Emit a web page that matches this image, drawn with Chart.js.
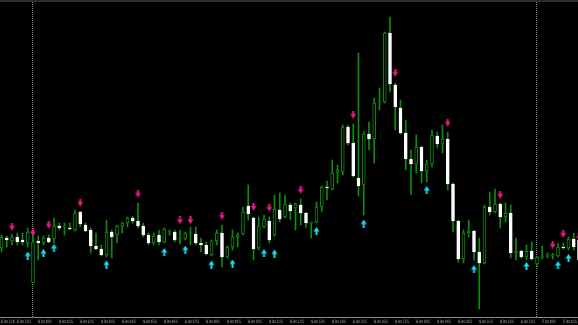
<!DOCTYPE html>
<html><head><meta charset="utf-8">
<script src="https://cdn.jsdelivr.net/npm/chart.js@4/dist/chart.umd.min.js"></script>
<style>
html,body{margin:0;padding:0;background:#000;}
#wrap{width:578px;height:325px;background:#000;overflow:hidden;}
#topbar{height:2px;background:#2c2c2c;}
#c{display:block;}
</style></head><body>
<div id="wrap"><div id="topbar"></div><canvas id="c" width="578" height="323"></canvas></div>
<script>
// M15 bars, values in chart units
const opens  = [72,82,79,83,80,77,37,79,77,82,81,94,93,92,90,108,95,90,74,71,65,88,85,94,97,102,99,94,85,77,85,78,88,88,81,81,87,86,77,75,65,79,87,63,73,83,86,114,102,72,93,99,85,110,103,115,112,115,107,97,98,113,133,131,147,148,193,177,142,135,186,181,218,218,287,235,212,187,161,156,173,149,156,184,176,181,136,99,61,87,89,68,57,113,108,116,103,107,67,69,63,69,56,63,64,64,64,73,72,81,80];
const highs  = [85,84,86,87,87,92,85,84,84,85,102,97,97,97,110,109,97,92,87,75,100,90,95,98,103,104,117,97,87,87,90,92,90,90,90,88,93,93,82,78,80,90,95,74,90,87,113,135,103,103,105,103,125,127,125,117,117,121,108,98,118,134,139,160,155,195,195,196,267,188,198,222,232,288,303,237,220,200,170,185,174,160,190,188,195,188,137,100,90,100,90,82,115,128,131,117,117,115,82,70,75,78,64,74,67,67,77,77,83,87,85];
const lows   = [68,73,75,75,75,73,37,60,75,77,77,90,85,90,89,93,88,67,70,64,63,62,77,87,93,97,92,83,75,75,75,77,85,78,76,80,75,75,68,65,64,75,53,62,70,73,85,100,60,70,92,77,84,98,102,100,90,95,92,82,97,108,120,130,137,145,175,143,124,105,170,157,210,217,228,190,186,150,125,147,137,138,153,172,167,130,88,58,57,83,60,11,56,105,107,92,98,62,60,62,60,60,53,61,62,61,63,71,70,70,58];
const closes = [83,80,83,78,78,88,78,77,82,78,94,92,93,91,107,96,89,74,71,65,88,83,94,97,102,99,94,85,77,84,78,91,88,80,81,87,87,77,75,66,79,87,63,73,83,85,108,106,71,94,101,80,111,101,116,109,116,107,97,97,113,133,132,147,150,193,177,144,134,186,181,217,218,287,236,213,187,161,156,173,149,156,185,176,181,136,99,61,87,89,68,57,113,108,116,103,107,67,69,63,69,61,63,63,64,64,73,72,81,73,60];

// signal arrows (bar index, value)
const downArrowBars = [2,6,9,15,26,34,36,42,48,51,57,67,75,85,95,105,107,110];
const downArrowVals = [93.5,88,95.5,117.5,126.5,100,100,104.5,113.5,112.5,130.5,205.5,247.5,197.5,125.5,75.5,86.5,83.5];
const upArrowBars   = [5,8,10,20,31,35,40,44,50,52,60,69,81,90,100,106,108];
const upArrowVals   = [64.5,67,72,55.5,68,70.5,55.5,56.5,67,66.5,89,96.5,130,51,54,55,62];

// day separators (bar index)
const separatorBars = [6,102];

// time axis labels
const tickBars = [0,3,7,11,15,19,23,27,31,35,39,43,47,51,55,59,63,67,71,75,79,83,87,91,95,99,103,107];
const tickLabels = ["15 Dec 22:30","15 Dec 23:15","16 Dec 00:15","16 Dec 01:15","16 Dec 02:15","16 Dec 03:15","16 Dec 04:15","16 Dec 05:15","16 Dec 06:15","16 Dec 07:15","16 Dec 08:15","16 Dec 09:15","16 Dec 10:15","16 Dec 11:15","16 Dec 12:15","16 Dec 13:15","16 Dec 14:15","16 Dec 15:15","16 Dec 16:15","16 Dec 17:15","16 Dec 18:15","16 Dec 19:15","16 Dec 20:15","16 Dec 21:15","16 Dec 22:15","16 Dec 23:15","17 Dec 00:15","17 Dec 01:15"];

const GREEN = '#0e8c0e';
const PINK = '#ee1a8c';
const CYAN = '#16dcf0';

function makeArrow(color, down){
  const c = document.createElement('canvas');
  c.width = 7; c.height = 8;
  const g = c.getContext('2d');
  g.fillStyle = color;
  g.save();
  if(!down){ g.translate(0,8); g.scale(1,-1); }
  g.fillRect(2.5,0,2,4);
  g.beginPath(); g.moveTo(0.5,3.5); g.lineTo(6.5,3.5); g.lineTo(3.5,8); g.closePath(); g.fill();
  g.restore();
  return c;
}
const downImg = makeArrow(PINK, true);
const upImg = makeArrow(CYAN, false);

const idx = opens.map((_, i) => i);
const isBull = i => closes[i] >= opens[i];

const separatorPlugin = {
  id: 'separators',
  beforeDatasetsDraw(chart){
    const {ctx, chartArea, scales} = chart;
    ctx.save();
    ctx.strokeStyle = '#8a8a8a';
    ctx.lineWidth = 1;
    ctx.setLineDash([1,1]);
    separatorBars.forEach(b => {
      const px = Math.floor(scales.x.getPixelForValue(b)) + 0.5;
      ctx.beginPath(); ctx.moveTo(px, chartArea.top); ctx.lineTo(px, chartArea.bottom); ctx.stroke();
    });
    ctx.restore();
  }
};

// tiny, horizontally condensed time labels placed at the x-scale's ticks
const timeLabelPlugin = {
  id: 'timeLabels',
  afterDraw(chart){
    const {ctx, chartArea, scales} = chart;
    const xs = scales.x;
    ctx.save();
    ctx.fillStyle = '#c4c4c4';
    ctx.font = "5px 'DejaVu Sans', sans-serif";
    ctx.textBaseline = 'top';
    ctx.textAlign = 'left';
    xs.ticks.forEach(t => {
      const k = tickBars.indexOf(t.value);
      if (k < 0) return;
      const px = xs.getPixelForValue(t.value);
      ctx.save();
      ctx.translate(Math.round(px) - 0.5, chartArea.bottom + 2.5);
      ctx.scale(0.43, 0.9);
      ctx.fillText(tickLabels[k], 0, 0);
      ctx.restore();
    });
    ctx.restore();
  }
};

new Chart(document.getElementById('c'), {
  type: 'bar',
  data: {
    datasets: [
      {
        type: 'scatter', order: 0,
        data: downArrowBars.map((b, k) => ({x: b, y: downArrowVals[k]})),
        pointStyle: downImg, pointRadius: 3
      },
      {
        type: 'scatter', order: 0,
        data: upArrowBars.map((b, k) => ({x: b, y: upArrowVals[k]})),
        pointStyle: upImg, pointRadius: 3
      },
      {
        order: 1, grouped: false, barThickness: 3, minBarLength: 1,
        data: idx.map(i => ({x: i, y: [opens[i], closes[i]]})),
        backgroundColor: c => isBull(c.dataIndex) ? '#000' : '#fff',
        borderColor: c => isBull(c.dataIndex) ? GREEN : '#fff',
        borderWidth: 1, borderSkipped: false
      },
      {
        order: 2, grouped: false, barThickness: 1,
        data: idx.map(i => ({x: i, y: [lows[i], highs[i]]})),
        backgroundColor: GREEN, borderWidth: 0
      }
    ]
  },
  options: {
    responsive: false, maintainAspectRatio: false, devicePixelRatio: 1,
    animation: false,
    layout: {padding: 0, autoPadding: false},
    plugins: {legend: {display: false}, tooltip: {enabled: false}},
    scales: {
      x: {
        type: 'linear', offset: false, min: -0.2857, max: 109.81,
        grid: {display: false},
        border: {display: true, color: '#8a8a8a', width: 1},
        ticks: {display: false, autoSkip: false, maxRotation: 0, minRotation: 0},
        afterBuildTicks: s => { s.ticks = tickBars.map(v => ({value: v})); },
        afterFit: s => { s.height = 8; s.paddingLeft = 0; s.paddingRight = 0; }
      },
      y: {display: false, min: 3, max: 318}
    }
  },
  plugins: [separatorPlugin, timeLabelPlugin]
});
</script>
</body></html>
